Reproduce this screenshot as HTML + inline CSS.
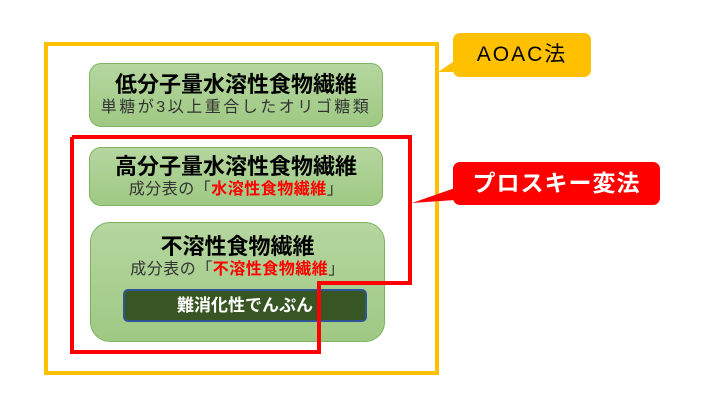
<!DOCTYPE html>
<html><head><meta charset="utf-8"><style>
body{margin:0;width:702px;height:417px;background:#fff;position:relative;overflow:hidden;font-family:"Liberation Sans","Noto Sans CJK JP",sans-serif;}
.a{position:absolute;box-sizing:border-box;}
.g{background:linear-gradient(#b5d6a0,#9ec983);border:1px solid #7fb361;text-align:center;color:#000;}
.t{font-weight:bold;font-size:22px;line-height:26px;}
.s{font-size:16px;line-height:20px;color:#333;letter-spacing:0.5px;}
.r{color:#f00;font-weight:bold;}
</style></head><body>
<div class="a" style="left:44px;top:42px;width:395px;height:333px;border:4px solid #ffc000;"></div>
<div class="a g" style="left:89px;top:63px;width:294px;height:64px;border-radius:12px;padding-top:8px;">
<div class="t">低分子量水溶性食物繊維</div><div class="s" style="font-size:16px;letter-spacing:2.5px;">単糖が3以上重合したオリゴ糖類</div></div>
<div class="a g" style="left:89px;top:147px;width:294px;height:59px;border-radius:12px;padding-top:6px;">
<div class="t">高分子量水溶性食物繊維</div><div class="s">成分表の「<span class="r">水溶性食物繊維</span>」</div></div>
<div class="a g" style="left:90px;top:222px;width:295px;height:120px;border-radius:20px;padding-top:11px;">
<div class="t">不溶性食物繊維</div><div class="s">成分表の「<span class="r">不溶性食物繊維</span>」</div></div>
<div class="a" style="left:123px;top:289px;width:244px;height:33px;background:#375623;border:2px solid #2f5597;border-radius:5px;color:#fff;font-weight:bold;font-size:17px;line-height:29px;text-align:center;">難消化性でんぷん</div>
<svg class="a" style="left:0;top:0" width="702" height="417">
<polyline points="72,137 410,137 410,283 319,283 319,352 72,352 72,137" fill="none" stroke="#f00" stroke-width="4"/>
<path d="M453,62 L438,72 L453,72 Z" fill="#ffc000"/>
<path d="M455,188 L412,203 L455,200 Z" fill="#f00"/>
</svg>
<div class="a" style="left:453px;top:33px;width:138px;height:44px;background:#ffc000;border-radius:7px;font-size:21px;line-height:44px;text-align:center;color:#000;letter-spacing:2px;">AOAC法</div>
<div class="a" style="left:453px;top:162px;width:207px;height:43px;background:#f00;border-radius:7px;font-size:23px;font-weight:bold;line-height:43px;text-align:center;color:#fff;letter-spacing:1px;">プロスキー変法</div>
</body></html>
